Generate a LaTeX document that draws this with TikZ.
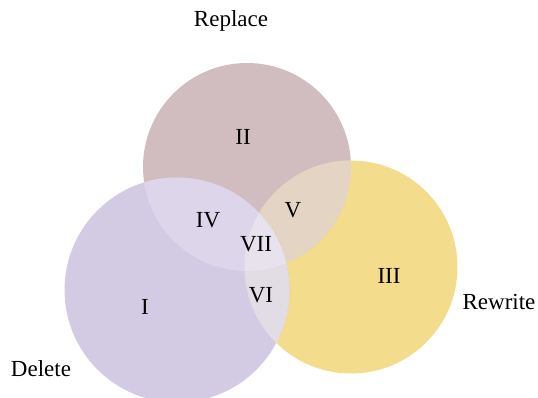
\documentclass[tikz,border=0pt]{standalone}
\usepackage{fontspec}
\setmainfont{Liberation Serif}
\definecolor{cA}{HTML}{D1BCC0}
\definecolor{cB}{HTML}{F3DC8C}
\definecolor{cC}{HTML}{D3CBE3}
\definecolor{cAC}{HTML}{DDD6EA}
\definecolor{cAB}{HTML}{E4D4C4}
\definecolor{cBC}{HTML}{E2DCE5}
\definecolor{cABC}{HTML}{E8E2EC}
\tikzset{lbl/.style={font=\fontsize{23}{27}\selectfont, inner sep=0pt}}
\begin{document}
\begin{tikzpicture}[x=1pt,y=-1pt]
\useasboundingbox (0,0) rectangle (538,398);
\def\cA{(247,167) circle[radius=104pt]}
\def\cB{(351,267) circle[radius=106.5pt]}
\def\cC{(177,290) circle[radius=112.5pt]}
\fill[cA] \cA;
\fill[cB] \cB;
\fill[cC] \cC;
\begin{scope}\clip \cA; \fill[cAC] \cC; \end{scope}
\begin{scope}\clip \cA; \fill[cAB] \cB; \end{scope}
\begin{scope}\clip \cB; \fill[cBC] \cC; \end{scope}
\begin{scope}\clip \cA; \clip \cB; \fill[cABC] \cC; \end{scope}
\node[lbl] (r1) at (145,307) {I};
\node[lbl] (r2) at (243,137) {II};
\node[lbl] (r3) at (389,276) {III};
\node[lbl] (r4) at (208,220) {IV};
\node[lbl] (r5) at (293,210) {V};
\node[lbl] (r6) at (261,295) {VI};
\node[lbl] (r7) at (256,244) {VII};
\node[lbl, anchor=base] (tA) at (231,27) {Replace};
\node[lbl, anchor=base] (tC) at (41,376) {Delete};
\node[lbl, anchor=base] (tB) at (499,309) {Rewrite};
\end{tikzpicture}
\end{document}
